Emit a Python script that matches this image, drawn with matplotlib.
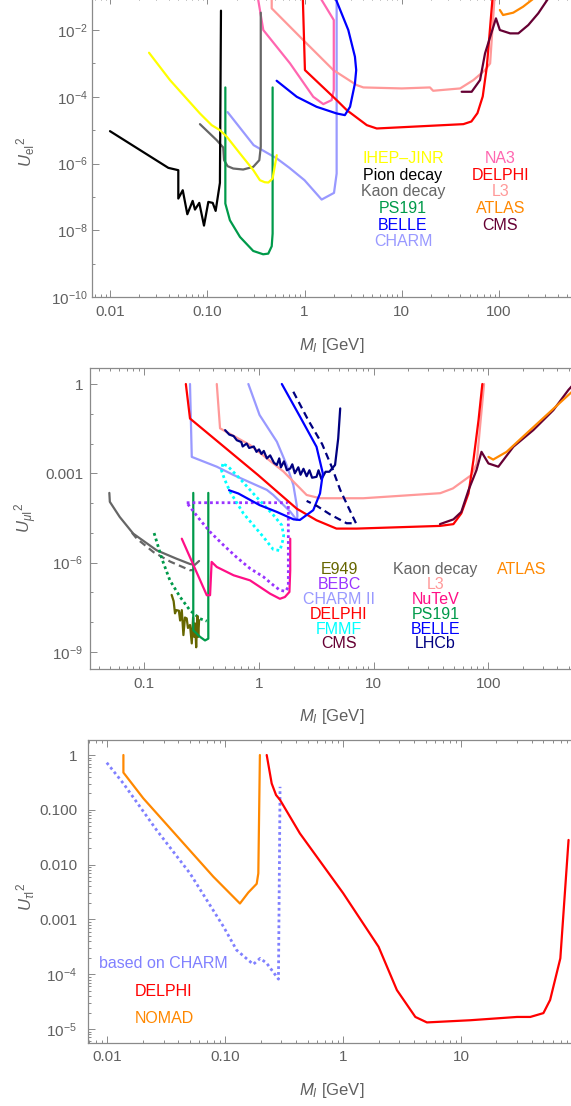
import numpy as np
import matplotlib
matplotlib.use('Agg')
import matplotlib.pyplot as plt
from matplotlib.ticker import FixedLocator, FixedFormatter, NullFormatter, LogLocator

plt.rcParams['font.family'] = ['Liberation Sans', 'DejaVu Sans']
plt.rcParams['mathtext.fontset'] = 'custom'
plt.rcParams['mathtext.rm'] = 'Liberation Sans'
plt.rcParams['mathtext.it'] = 'Liberation Sans:italic'
plt.rcParams['mathtext.bf'] = 'Liberation Sans:bold'

# ================= DATA (mass M in GeV, log10 of |U|^2) =================
# ---- Panel 1 : electron mixing ----
pion_M = [0.01, 0.0398, 0.0504, 0.0504, 0.056, 0.0624, 0.0708, 0.0748, 0.0828, 0.0926, 0.1026, 0.1138, 0.122, 0.135, 0.1384]
pion_logU = [-5.03, -6.13, -6.2, -7.05, -6.8, -7.52, -7.12, -7.38, -7.18, -7.86, -7.15, -7.18, -7.42, -6.58, -1.42]
ihep_M = [0.0252, 0.0414, 0.0841, 0.111, 0.135, 0.159, 0.217, 0.298, 0.348, 0.39, 0.425, 0.47, 0.518]
ihep_logU = [-2.68, -3.5, -4.5, -4.85, -5.0, -5.2, -5.7, -6.2, -6.5, -6.56, -6.57, -6.45, -5.75]
kaonE_M = [0.0841, 0.125, 0.146, 0.149, 0.162, 0.185, 0.234, 0.297, 0.343, 0.355, 0.355]
kaonE_logU = [-4.82, -5.3, -5.52, -5.9, -6.08, -6.15, -6.18, -6.1, -5.9, -5.5, -1.48]
ps191E_M = [0.1535, 0.1535, 0.171, 0.217, 0.297, 0.376, 0.424, 0.46, 0.47, 0.47]
ps191E_logU = [-3.72, -7.2, -7.7, -8.2, -8.62, -8.72, -8.7, -8.48, -8.1, -3.72]
charmE_M = [0.162, 0.3, 0.52, 0.7, 1.0, 1.5, 2.01, 2.14, 2.14]
charmE_logU = [-4.46, -5.45, -5.85, -6.13, -6.5, -7.08, -6.88, -6.3, -1.0]
na3_M = [0.33, 0.377, 0.71, 1.23, 1.56, 1.9, 2.0, 2.0, 1.43]
na3_logU = [-1.0, -2.0, -3.0, -4.0, -4.22, -4.1, -3.8, -1.7, -1.0]
belleE_M = [0.517, 0.832, 1.33, 2.14, 2.6, 2.94, 3.3, 3.4, 3.3, 2.82, 2.05]
belleE_logU = [-3.52, -4.0, -4.3, -4.5, -4.55, -4.3, -3.6, -3.2, -2.8, -2.0, -1.0]
delphiE_M = [0.96, 1.01, 2.14, 2.72, 4.37, 5.53, 43, 52, 60, 68, 75, 80, 86]
delphiE_logU = [-1.0, -3.2, -4.1, -4.4, -4.85, -4.95, -4.82, -4.74, -4.49, -3.99, -3.09, -2.1, -1.0]
l3E_M = [0.46, 0.46, 0.97, 1.98, 3.44, 4.03, 10.0, 19.5, 21, 39.8, 54.5, 71.8, 81, 90]
l3E_logU = [-1.0, -1.35, -2.3, -3.2, -3.65, -3.72, -3.75, -3.72, -3.82, -3.75, -3.5, -3.2, -3.0, -1.0]
cmsE_M = [41.3, 52.3, 63.8, 71.8, 93, 102, 130, 158, 200, 253, 330]
cmsE_logU = [-3.85, -3.85, -3.5, -2.7, -1.65, -2.0, -2.1, -2.1, -1.85, -1.5, -1.0]
atlasE_M = [102, 110, 140, 177, 240]
atlasE_logU = [-1.4, -1.55, -1.48, -1.3, -1.0]

# ---- Panel 2 : muon mixing ----
kaonM_M = [0.0495, 0.05, 0.061, 0.08, 0.128, 0.19, 0.25, 0.275, 0.30]
kaonM_logU = [-3.66, -3.96, -4.47, -5.03, -5.59, -5.87, -6.05, -6.08, -5.95]
kaonMd_M = [0.078, 0.086, 0.12, 0.168, 0.25, 0.27]
kaonMd_logU = [-5.0, -5.2, -5.65, -5.97, -6.26, -6.25]
e949_M = [0.173, 0.18, 0.185, 0.19, 0.2, 0.205, 0.212, 0.219, 0.226, 0.234, 0.24, 0.25, 0.259, 0.266, 0.272, 0.277, 0.283, 0.29, 0.295, 0.3]
e949_logU = [-7.09, -7.3, -7.71, -7.6, -7.62, -7.95, -7.6, -8.44, -7.85, -7.88, -8.2, -8.1, -8.72, -7.85, -8.5, -8.05, -8.85, -7.8, -8.5, -7.94]
ps191Md_M = [0.1216, 0.142, 0.167, 0.205, 0.25, 0.306, 0.35]
ps191Md_logU = [-5.01, -5.87, -6.6, -7.16, -7.61, -7.89, -7.97]
ps191M_M = [0.267, 0.267, 0.306, 0.338, 0.361, 0.361]
ps191M_logU = [-3.66, -8.28, -8.5, -8.62, -8.56, -3.66]
nutev_M = [0.212, 0.35, 0.374, 0.386, 0.428, 0.6, 0.834, 1.25, 1.52, 1.68, 1.84, 1.87, 1.87]
nutev_logU = [-5.2, -7.1, -7.1, -5.98, -6.15, -6.43, -6.6, -7.05, -7.22, -7.16, -6.99, -6.26, -5.2]
bebc_M = [0.234, 1.8, 1.8, 1.7, 1.52, 1.33, 1.09, 0.834, 0.64, 0.488, 0.374, 0.306, 0.234]
bebc_logU = [-3.99, -3.99, -6.82, -6.97, -6.93, -6.76, -6.48, -6.2, -5.83, -5.41, -4.97, -4.57, -3.99]
fmmf_M = [0.483, 0.47, 0.5, 0.56, 0.73, 1.09, 1.33, 1.52, 1.6, 1.64, 1.58, 1.33, 0.95, 0.68, 0.53, 0.483]
fmmf_logU = [-2.69, -2.9, -3.2, -3.63, -4.35, -5.14, -5.56, -5.6, -5.3, -5.1, -4.75, -4.4, -3.8, -3.18, -2.75, -2.69]
charm2_M = [0.25, 0.259, 0.428, 0.6, 1.17, 1.33, 1.87, 2.13, 2.16, 2.13, 1.99, 1.74, 1.43, 1.01, 0.807]
charm2_logU = [0.0, -2.45, -2.78, -3.06, -3.56, -3.73, -4.29, -4.57, -4.45, -4.07, -3.39, -2.72, -1.94, -1.04, 0.0]
delphiM_M = [0.23, 0.25, 0.98, 2.13, 3.17, 4.73, 7.1, 37.8, 49.5, 58, 67, 74, 82, 88.5]
delphiM_logU = [0.0, -1.16, -3.06, -4.19, -4.58, -4.86, -4.86, -4.77, -4.71, -4.35, -3.68, -2.56, -1.21, 0.0]
l3M_M = [0.428, 0.457, 0.834, 1.63, 2.6, 3.4, 8.1, 22, 38, 49, 71, 79, 84.5, 91.6]
l3M_logU = [0.0, -1.49, -2.05, -2.94, -3.73, -3.84, -3.84, -3.73, -3.67, -3.51, -3.06, -2.67, -1.44, 0.0]
belleM_M = [0.547, 0.66, 1.01, 1.43, 2.0, 2.27, 2.97, 3.4, 3.6, 3.17, 2.27, 1.58]
belleM_logU = [-3.57, -3.68, -4.07, -4.3, -4.55, -4.57, -4.24, -3.68, -3.01, -2.11, -1.09, 0.0]
belleMd_M = [1.99, 2.68, 3.55, 4.34, 5.1, 6.0, 7.0, 5.8, 4.15, 3.2, 2.6]
belleMd_logU = [-0.26, -1.21, -2.02, -2.82, -3.56, -4.14, -4.68, -4.68, -4.38, -4.1, -3.93]
lhcb_M = [0.506, 0.55, 0.6, 0.64, 0.7, 0.72, 0.78, 0.82, 0.9, 0.95, 1.0, 1.05, 1.1, 1.17, 1.25, 1.35, 1.43, 1.5, 1.55, 1.65, 1.75, 1.87, 1.95, 2.05, 2.2, 2.3, 2.44, 2.6, 2.75, 2.9, 3.17, 3.3, 3.5, 3.8, 4.1, 4.6, 4.9, 5.1]
lhcb_logU = [-1.55, -1.7, -1.75, -1.89, -1.95, -2.1, -2.0, -2.15, -2.1, -2.28, -2.2, -2.35, -2.25, -2.5, -2.4, -2.65, -2.72, -2.5, -2.8, -2.6, -2.9, -2.84, -2.7, -3.0, -2.8, -3.05, -2.85, -3.1, -2.9, -3.15, -3.12, -2.9, -3.2, -2.95, -2.95, -2.72, -1.83, -0.82]
cmsM_M = [37.8, 49.5, 58, 67, 78.6, 87, 100, 122, 165, 246, 368, 498, 540]
cmsM_logU = [-4.71, -4.55, -4.3, -3.57, -2.9, -2.28, -2.67, -2.78, -2.11, -1.55, -0.88, -0.2, -0.05]
atlasM_M = [100, 110, 144, 215, 322, 498, 540]
atlasM_logU = [-2.45, -2.54, -2.28, -1.66, -1.04, -0.37, -0.25]

# ---- Panel 3 : tau mixing ----
nomad_M = [0.0137, 0.0137, 0.0202, 0.0793, 0.1334, 0.157, 0.185, 0.191, 0.197]
nomad_logU = [0.0, -0.32, -0.79, -2.22, -2.71, -2.51, -2.35, -2.16, 0.0]
charmT_M = [0.0099, 0.0137, 0.0262, 0.0503, 0.0966, 0.125, 0.173, 0.198, 0.225, 0.283, 0.292]
charmT_logU = [-0.14, -0.52, -1.37, -2.16, -3.13, -3.56, -3.82, -3.71, -3.80, -4.09, -0.58]
delphiT_M = [0.225, 0.248, 0.27, 0.292, 0.43, 1.0, 2.0, 2.86, 4.1, 5.14, 12, 29.9, 38.7, 50, 57, 69.6, 81.7]
delphiT_logU = [0.0, -0.52, -0.73, -0.82, -1.43, -2.52, -3.5, -4.29, -4.78, -4.88, -4.84, -4.78, -4.78, -4.71, -4.47, -3.71, -1.55]

# ---- labels ----
legend1_col1 = ['IHEP–JINR', 'Pion decay', 'Kaon decay', 'PS191', 'BELLE', 'CHARM']
legend1_col2 = ['NA3', 'DELPHI', 'L3', 'ATLAS', 'CMS']
legend2_col1 = ['E949', 'BEBC', 'CHARM II', 'DELPHI', 'FMMF', 'CMS']
legend2_col2 = ['Kaon decay', 'L3', 'NuTeV', 'PS191', 'BELLE', 'LHCb']
legend2_col3 = ['ATLAS']
legend3 = ['based on CHARM', 'DELPHI', 'NOMAD']

# ================= STYLE =================
C = {
    'ihep': '#ffff00', 'pion': '#000000', 'kaon': '#666666', 'ps191': '#009a4a',
    'belle': '#0000ff', 'charm': '#9999ff', 'na3': '#ff66b0', 'delphi': '#ff0000',
    'l3': '#ff9999', 'atlas': '#ff8800', 'cms': '#660033', 'e949': '#666600',
    'bebc': '#9933ff', 'fmmf': '#00ffff', 'nutev': '#ff0f86', 'lhcb': '#000080',
    'nomad': '#ff8800', 'charmT': '#8080ff',
}
SPINE = '#8a8a8a'
TXT = '#606060'
LW = 1.6

W, H = 571, 1106
fig = plt.figure(figsize=(W / 100, H / 100), dpi=100)


def rect(left, top, right, bottom):
    return [left / W, 1 - bottom / H, (right - left) / W, (bottom - top) / H]


def style(ax, xmaj, xlab, ymaj, ylab, ymin, ypad):
    ax.set_xscale('log')
    ax.set_yscale('log')
    for s in ['left', 'bottom', 'top']:
        ax.spines[s].set_color(SPINE)
        ax.spines[s].set_linewidth(0.9)
    ax.spines['right'].set_visible(False)
    ax.xaxis.set_major_locator(FixedLocator(xmaj))
    ax.xaxis.set_major_formatter(FixedFormatter(xlab))
    ax.xaxis.set_minor_locator(LogLocator(base=10, subs=np.arange(2, 10), numticks=30))
    ax.xaxis.set_minor_formatter(NullFormatter())
    ax.yaxis.set_major_locator(FixedLocator(ymaj))
    ax.yaxis.set_major_formatter(FixedFormatter(ylab))
    if ymin is None:
        ax.yaxis.set_minor_locator(LogLocator(base=10, subs=np.arange(2, 10), numticks=30))
    else:
        ax.yaxis.set_minor_locator(FixedLocator(ymin))
    ax.yaxis.set_minor_formatter(NullFormatter())
    ax.tick_params(which='both', direction='in', top=True, right=False,
                   color=SPINE, labelcolor=TXT, labelsize=11, width=0.7)
    ax.tick_params(which='major', length=5)
    ax.tick_params(which='minor', length=2.5)
    ax.tick_params(axis='x', pad=5.5)
    ax.tick_params(axis='y', pad=ypad)


def line(ax, m, logu, color, ls='-', lw=LW):
    y = 10.0 ** np.asarray(logu, dtype=float)
    if ls == ':':
        ax.plot(m, y, color=color, lw=2.0, ls=(0, (1.0, 1.1)), dash_capstyle='butt')
    elif ls == '--':
        ax.plot(m, y, color=color, lw=lw, ls=(0, (3.2, 2.0)), dash_capstyle='butt')
    else:
        ax.plot(m, y, color=color, lw=lw, ls='-', solid_joinstyle='round', solid_capstyle='round')


def ftext(px, py, s, color, size=11.5, ha='center'):
    fig.text(px / W, 1 - py / H, s, color=color, fontsize=size, ha=ha, va='baseline')


# ---------------- Panel 1 ----------------
ax1 = fig.add_axes(rect(91.7, -3, 571, 297))
style(ax1, [0.01, 0.1, 1, 10, 100], ['0.01', '0.10', '1', '10', '100'],
      [1e-10, 1e-8, 1e-6, 1e-4, 1e-2],
      [r'$10^{-10}$', r'$10^{-8}$', r'$10^{-6}$', r'$10^{-4}$', r'$10^{-2}$'],
      [1e-9, 1e-7, 1e-5, 1e-3], 3)
ax1.spines['top'].set_visible(False)
ax1.set_xlim(10 ** -2.188, 10 ** 2.74)
ax1.set_ylim(1e-10, 10 ** -1.01)
line(ax1, charmE_M, charmE_logU, C['charm'])
line(ax1, l3E_M, l3E_logU, C['l3'])
line(ax1, na3_M, na3_logU, C['na3'])
line(ax1, kaonE_M, kaonE_logU, C['kaon'])
line(ax1, pion_M, pion_logU, C['pion'])
line(ax1, ps191E_M, ps191E_logU, C['ps191'])
line(ax1, ihep_M, ihep_logU, C['ihep'])
line(ax1, delphiE_M, delphiE_logU, C['delphi'])
line(ax1, belleE_M, belleE_logU, C['belle'])
line(ax1, atlasE_M, atlasE_logU, C['atlas'])
line(ax1, cmsE_M, cmsE_logU, C['cms'])

cols1 = [C['ihep'], C['pion'], C['kaon'], C['ps191'], C['belle'], C['charm']]
for i, (s, c) in enumerate(zip(legend1_col1, cols1)):
    ftext(403, 163.3 + 16.55 * i, s, c)
cols2 = [C['na3'], C['delphi'], C['l3'], C['atlas'], C['cms']]
for i, (s, c) in enumerate(zip(legend1_col2, cols2)):
    ftext(500.5, 163.3 + 16.55 * i, s, c)

# ---------------- Panel 2 ----------------
ax2 = fig.add_axes(rect(90, 368.3, 571, 669.3))
style(ax2, [0.1, 1, 10, 100], ['0.1', '1', '10', '100'],
      [1e-9, 1e-6, 1e-3, 1], [r'$10^{-9}$', r'$10^{-6}$', '0.001', '1'],
      [1e-8, 1e-7, 1e-5, 1e-4, 1e-2, 1e-1], 5)
ax2.set_xlim(10 ** -1.474, 10 ** 2.72)
ax2.set_ylim(10 ** -9.59, 10 ** 0.528)
line(ax2, charm2_M, charm2_logU, C['charm'])
line(ax2, l3M_M, l3M_logU, C['l3'])
line(ax2, kaonM_M, kaonM_logU, C['kaon'])
line(ax2, kaonMd_M, kaonMd_logU, C['kaon'], '--')
line(ax2, ps191Md_M, ps191Md_logU, C['ps191'], ':')
line(ax2, e949_M, e949_logU, C['e949'])
line(ax2, ps191M_M, ps191M_logU, C['ps191'])
line(ax2, nutev_M, nutev_logU, C['nutev'])
line(ax2, bebc_M, bebc_logU, C['bebc'], ':')
line(ax2, fmmf_M, fmmf_logU, C['fmmf'], ':')
line(ax2, delphiM_M, delphiM_logU, C['delphi'])
line(ax2, lhcb_M, lhcb_logU, C['lhcb'])
line(ax2, belleM_M, belleM_logU, C['belle'])
line(ax2, belleMd_M, belleMd_logU, C['lhcb'], '--')
line(ax2, cmsM_M, cmsM_logU, C['cms'])
line(ax2, atlasM_M, atlasM_logU, C['atlas'])

c2a = [C['e949'], C['bebc'], C['charm'], C['delphi'], C['fmmf'], C['cms']]
c2b = [C['kaon'], C['l3'], C['nutev'], C['ps191'], C['belle'], C['lhcb']]
for i, (s, c) in enumerate(zip(legend2_col1, c2a)):
    ftext(339, 574.3 + 14.8 * i, s, c)
for i, (s, c) in enumerate(zip(legend2_col2, c2b)):
    ftext(435.3, 574.3 + 14.8 * i, s, c)
ftext(522, 574.3, legend2_col3[0], C['atlas'])

# ---------------- Panel 3 ----------------
ax3 = fig.add_axes(rect(88.3, 740, 571, 1042.7))
style(ax3, [0.01, 0.1, 1, 10], ['0.01', '0.10', '1', '10'],
      [1e-5, 1e-4, 1e-3, 1e-2, 1e-1, 1],
      [r'$10^{-5}$', r'$10^{-4}$', '0.001', '0.010', '0.100', '1'], None, 8)
ax3.set_xlim(10 ** -2.161, 10 ** 1.933)
ax3.set_ylim(10 ** -5.25, 10 ** 0.274)
line(ax3, charmT_M, charmT_logU, C['charmT'], ':')
line(ax3, nomad_M, nomad_logU, C['nomad'])
line(ax3, delphiT_M, delphiT_logU, C['delphi'])

ftext(163.5, 967.7, legend3[0], C['charmT'])
ftext(164, 995.5, legend3[1], C['delphi'])
ftext(164, 1023.3, legend3[2], C['nomad'])

# ---------------- axis labels ----------------
for yb in (349.5, 721.5, 1095.5):
    fig.text(331.5 / W, 1 - yb / H, r'$M_I$ [GeV]', color=TXT, fontsize=12, ha='center', va='baseline')
ylabels = [(152, r'$U_{\mathrm{eI}}{}^{2}$'), (518, r'$U_{\mu\mathrm{I}}{}^{2}$'), (897, r'$U_{\tau\mathrm{I}}{}^{2}$')]
for yc, s in ylabels:
    fig.text(26 / W, 1 - yc / H, s, color=TXT, fontsize=12, rotation=90, ha='center', va='center')

fig.savefig('out.png', dpi=100)
